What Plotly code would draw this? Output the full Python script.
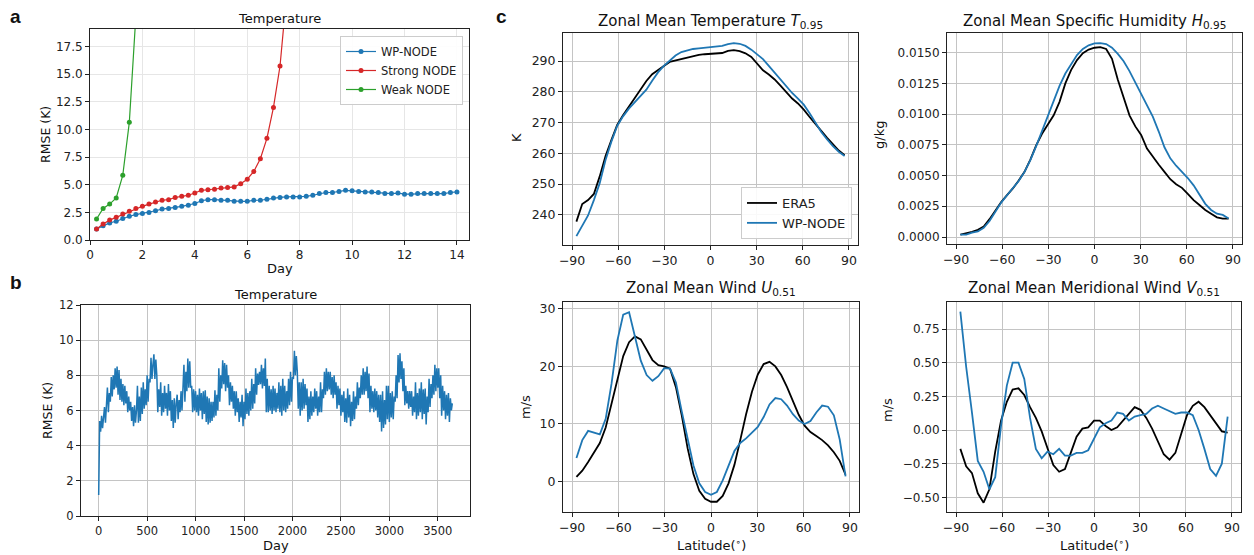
import plotly.graph_objects as go

W, H = 1254, 555

# ---------------- Panel a data ----------------
days_a = [0.25 * (i + 1) for i in range(56)]
wp_a = [1.0, 1.3, 1.55, 1.7, 1.95, 2.15, 2.3, 2.4, 2.5, 2.65,
        2.8, 2.85, 2.95, 3.05, 3.15, 3.3, 3.55, 3.65, 3.65, 3.6,
        3.6, 3.5, 3.5, 3.5, 3.6, 3.6, 3.7, 3.8, 3.85, 3.9,
        3.9, 3.9, 3.95, 4.05, 4.2, 4.3, 4.3, 4.4, 4.5, 4.45,
        4.4, 4.35, 4.35, 4.3, 4.2, 4.2, 4.25, 4.15, 4.15, 4.2,
        4.2, 4.2, 4.2, 4.2, 4.3, 4.35]
strong_a = [1.0, 1.45, 1.8, 2.05, 2.35, 2.6, 2.85, 3.05, 3.25, 3.45,
            3.6, 3.65, 3.85, 3.95, 4.05, 4.25, 4.5, 4.55, 4.6, 4.7,
            4.75, 4.8, 5.1, 5.5, 6.2, 7.35, 9.2, 12.0, 15.75, 22.2]
weak_a = [1.9, 2.85, 3.25, 3.8, 5.85, 10.65, 20.3]

# ---------------- Panel b data (every 10 days) ----------------
rmse_b = [
    1.2, 5.4, 4.8, 5.7, 5.0, 5.6, 6.2, 5.3, 6.3, 7.3,
    5.9, 7.0, 6.5, 7.9, 6.8, 8.0, 7.2, 8.4, 7.3, 8.5,
    6.9, 8.3, 6.6, 7.8, 6.5, 7.5, 6.3, 7.4, 6.4, 7.1,
    5.9, 6.8, 6.0, 6.5, 5.4, 6.2, 5.1, 6.3, 5.3, 6.0,
    7.4, 5.3, 6.8, 5.4, 7.3, 5.8, 7.6, 6.1, 7.2, 6.3,
    8.0, 6.5, 7.8, 7.6, 9.0, 7.8, 8.6, 9.2, 7.8, 8.9,
    8.0, 5.9, 7.2, 6.2, 7.6, 5.7, 7.0, 5.9, 7.4, 6.1,
    7.0, 5.7, 7.5, 6.0, 7.1, 5.4, 6.6, 5.0, 6.7, 5.3,
    6.4, 6.9, 5.5, 6.6, 5.9, 7.1, 6.0, 7.0, 8.6, 6.5,
    8.2, 7.1, 8.95, 7.3, 8.8, 7.3, 7.4, 5.9, 7.2, 6.0,
    7.1, 5.9, 6.9, 5.7, 7.25, 6.0, 7.0, 5.5, 7.1, 5.8,
    7.15, 5.35, 6.8, 5.2, 6.7, 5.3, 6.5, 5.4, 6.5, 5.6,
    7.15, 5.7, 6.9, 6.0, 8.4, 6.5, 8.0, 7.25, 8.85, 7.5,
    8.7, 7.1, 8.6, 7.3, 8.0, 6.3, 7.6, 6.5, 7.4, 6.1,
    7.1, 5.7, 7.1, 5.9, 6.7, 5.35, 6.5, 5.6, 6.9, 5.1,
    6.5, 5.5, 7.25, 5.8, 7.0, 5.7, 7.1, 6.0, 7.8, 6.1,
    7.5, 6.4, 8.4, 6.9, 8.1, 7.45, 8.2, 7.5, 8.6, 7.25,
    8.4, 7.4, 8.95, 5.9, 7.8, 5.9, 7.4, 6.0, 7.2, 5.8,
    7.4, 6.0, 7.25, 5.9, 7.0, 6.1, 7.6, 5.9, 7.4, 5.7,
    7.8, 6.0, 7.4, 5.9, 7.1, 6.1, 7.8, 6.3, 8.2, 6.5,
    7.9, 7.8, 9.4, 8.0, 9.1, 8.2, 6.1, 7.6, 5.7, 7.6,
    6.0, 7.8, 6.1, 7.5, 6.3, 7.25, 5.35, 6.8, 5.5, 7.1,
    5.7, 6.8, 5.9, 7.25, 6.1, 7.1, 5.7, 6.8, 5.9, 7.6,
    5.9, 7.2, 6.7, 8.2, 6.9, 8.4, 7.1, 8.2, 7.2, 8.2,
    6.9, 7.9, 6.7, 8.0, 6.9, 7.6, 6.1, 7.4, 6.3, 7.25,
    5.7, 6.9, 5.9, 7.1, 5.35, 6.7, 5.3, 7.25, 5.6, 6.9,
    5.1, 6.5, 5.4, 7.1, 5.5, 6.8, 6.1, 7.6, 6.3, 7.3,
    6.7, 8.0, 6.9, 8.4, 6.9, 8.2, 7.1, 8.5, 6.7, 8.1,
    5.9, 7.4, 6.1, 7.1, 5.9, 7.25, 6.0, 7.1, 5.6, 6.9,
    5.35, 6.9, 4.8, 7.1, 5.0, 6.6, 5.2, 7.4, 5.5, 7.4,
    5.35, 7.0, 5.6, 7.1, 5.5, 6.8, 6.5, 8.0, 6.7, 9.15,
    7.6, 9.25, 7.8, 8.8, 7.1, 8.4, 6.3, 7.4, 6.4, 7.1,
    6.1, 7.1, 6.2, 7.1, 5.7, 6.8, 5.9, 7.6, 5.5, 7.0,
    5.7, 7.25, 5.9, 7.6, 5.5, 7.2, 5.8, 7.25, 5.2, 6.8,
    5.9, 7.8, 6.2, 7.5, 6.7, 8.0, 6.9, 8.6, 7.1, 8.4,
    7.3, 8.4, 6.7, 8.0, 5.7, 7.4, 6.0, 7.1, 5.5, 6.9,
    5.7, 7.0, 5.35, 6.7, 6.0, 6.4]
days_b = [10 * i for i in range(len(rmse_b))]

# ---------------- Panel c data ----------------
lat = [-87.19, -83.40, -79.61, -75.82, -72.03, -68.24, -64.45, -60.66, -56.87, -53.08,
       -49.29, -45.50, -41.71, -37.92, -34.13, -30.34, -26.54, -22.74, -18.95, -15.16,
       -11.37, -7.58, -3.79, 0.0, 3.79, 7.58, 11.37, 15.16, 18.95, 22.74,
       26.54, 30.33, 34.12, 37.91, 41.70, 45.49, 49.28, 53.07, 56.86, 60.65,
       64.44, 68.23, 72.02, 75.82, 79.61, 83.40, 87.19]

t_era5 = [237.8, 243.5, 244.8, 246.8, 252.5, 259.1, 264.3, 269.2, 272.4, 275.1,
          277.9, 280.8, 283.5, 285.7, 287.2, 288.4, 289.7, 290.2, 290.6, 291.0,
          291.6, 292.0, 292.2, 292.4, 292.4, 292.6, 293.3, 293.5, 293.2, 292.5,
          291.3, 289.2, 287.0, 285.6, 284.0, 282.0, 279.9, 277.8, 276.2, 274.2,
          271.8, 269.4, 267.3, 265.0, 262.8, 260.9, 259.4]
t_wp = [233.1, 236.5, 239.8, 244.8, 250.3, 257.8, 263.8, 268.9, 272.0, 274.5,
        276.6, 278.6, 280.7, 283.6, 286.3, 288.4, 290.0, 291.8, 292.9, 293.5,
        293.9, 294.1, 294.3, 294.5, 294.7, 294.9, 295.5, 295.8, 295.6, 294.9,
        293.7, 292.3, 290.6, 288.4, 286.2, 284.0, 281.7, 279.6, 277.8, 275.8,
        273.0, 269.8, 266.9, 264.5, 262.3, 260.5, 259.1]

h_era5 = [0.00020, 0.00030, 0.00042, 0.00058, 0.00085, 0.00145, 0.00220, 0.00285, 0.00340, 0.00395,
          0.00460, 0.00530, 0.00630, 0.00745, 0.00840, 0.00920, 0.00990, 0.01100, 0.01250, 0.01360,
          0.01440, 0.01495, 0.01525, 0.01540, 0.01545, 0.01530, 0.01450, 0.01280, 0.01140, 0.00990,
          0.00900, 0.00830, 0.00720, 0.00650, 0.00590, 0.00530, 0.00470, 0.00430, 0.00400, 0.00350,
          0.00300, 0.00260, 0.00220, 0.00190, 0.00160, 0.00150, 0.00150]
h_wp = [0.00020, 0.00020, 0.00035, 0.00045, 0.00075, 0.00130, 0.00205, 0.00280, 0.00340, 0.00395,
        0.00455, 0.00530, 0.00625, 0.00740, 0.00860, 0.00990, 0.01110, 0.01230, 0.01330, 0.01410,
        0.01480, 0.01530, 0.01560, 0.01575, 0.01578, 0.01570, 0.01540, 0.01490, 0.01430, 0.01350,
        0.01260, 0.01160, 0.01070, 0.00980, 0.00860, 0.00730, 0.00640, 0.00580, 0.00530, 0.00480,
        0.00420, 0.00340, 0.00270, 0.00220, 0.00190, 0.00180, 0.00150]

u_era5 = [0.8, 1.9, 3.4, 5.1, 6.7, 9.4, 13.5, 17.8, 21.8, 24.2,
          25.2, 24.7, 22.9, 21.1, 20.2, 20.0, 19.6, 16.4, 11.5, 5.8,
          1.3, -1.6, -3.0, -3.5, -3.5, -2.5, -0.3, 2.9, 7.2, 11.7,
          15.6, 18.6, 20.4, 20.8, 20.0, 18.5, 16.4, 14.0, 11.6, 9.7,
          8.6, 7.9, 7.2, 6.3, 5.1, 3.6, 1.2]
u_wp = [4.1, 7.2, 8.8, 8.5, 8.2, 10.9, 17.0, 24.5, 29.0, 29.4,
        25.0, 21.0, 18.5, 17.5, 18.3, 19.7, 19.6, 17.2, 12.2, 7.2,
        2.8, -0.3, -1.8, -2.3, -1.8, 0.2, 2.6, 5.3, 6.7, 7.5,
        8.5, 9.5, 11.2, 13.4, 14.5, 14.3, 13.2, 11.7, 10.6, 10.0,
        10.5, 12.0, 13.2, 13.0, 11.5, 7.3, 0.9]

v_era5 = [-0.14, -0.27, -0.32, -0.47, -0.54, -0.44, -0.16, 0.07, 0.21, 0.30,
          0.31, 0.26, 0.17, 0.09, -0.01, -0.14, -0.26, -0.31, -0.29, -0.17,
          -0.05, 0.01, 0.02, 0.07, 0.07, 0.03, 0.00, 0.02, 0.07, 0.12,
          0.17, 0.15, 0.09, 0.01, -0.08, -0.18, -0.22, -0.17, -0.03, 0.11,
          0.18, 0.21, 0.17, 0.11, 0.05, -0.01, -0.02]
v_wp = [0.88, 0.47, 0.13, -0.23, -0.31, -0.44, -0.35, 0.03, 0.33, 0.50,
        0.50, 0.38, 0.09, -0.14, -0.21, -0.16, -0.18, -0.14, -0.19, -0.19,
        -0.17, -0.17, -0.15, -0.06, 0.02, 0.05, 0.07, 0.13, 0.12, 0.07,
        0.10, 0.11, 0.12, 0.16, 0.18, 0.16, 0.14, 0.12, 0.13, 0.13,
        0.11, 0.00, -0.14, -0.29, -0.34, -0.25, 0.10]

BLUE, RED, GREEN, BLACK = "#1f77b4", "#d62728", "#2ca02c", "#000000"
FONT = "DejaVu Sans"

fig = go.Figure()

# Panel a
for name, ys, col in [("WP-NODE", wp_a, BLUE), ("Strong NODE", strong_a, RED), ("Weak NODE", weak_a, GREEN)]:
    fig.add_trace(go.Scatter(x=days_a[:len(ys)], y=ys, mode="lines+markers", name=name,
                             line=dict(color=col, width=1.2), marker=dict(color=col, size=5),
                             xaxis="x", yaxis="y", legend="legend"))

# Panel b
fig.add_trace(go.Scatter(x=days_b, y=rmse_b, mode="lines", line=dict(color=BLUE, width=1.5),
                         showlegend=False, xaxis="x2", yaxis="y2"))

# Panel c
pairs = [(t_era5, t_wp, "3"), (h_era5, h_wp, "4"), (u_era5, u_wp, "5"), (v_era5, v_wp, "6")]
for era, wp, k in pairs:
    first = (k == "3")
    fig.add_trace(go.Scatter(x=lat, y=era, mode="lines", name="ERA5", line=dict(color=BLACK, width=1.8),
                             showlegend=first, xaxis="x" + k, yaxis="y" + k, legend="legend2"))
    fig.add_trace(go.Scatter(x=lat, y=wp, mode="lines", name="WP-NODE", line=dict(color=BLUE, width=1.8),
                             showlegend=first, xaxis="x" + k, yaxis="y" + k, legend="legend2"))


def px_x(a, b):
    return [a / W, b / W]


def px_y(top, bot):
    return [1 - bot / H, 1 - top / H]


def ax(domain, rng, tick_size, grid="#c4c4c4", **kw):
    d = dict(domain=domain, range=rng, showline=True, mirror=True, linecolor="#222", linewidth=1,
             ticks="outside", ticklen=4, tickcolor="#222", showgrid=True, gridcolor=grid, gridwidth=1,
             zeroline=False, automargin=False, tickfont=dict(family=FONT, size=tick_size, color="#222"))
    d.update(kw)
    return d


lat_ticks = dict(tickmode="array", tickvals=[-90, -60, -30, 0, 30, 60, 90])

fig.update_layout(
    width=W, height=H, margin=dict(l=0, r=0, t=0, b=0, autoexpand=False),
    paper_bgcolor="white", plot_bgcolor="white",
    font=dict(family=FONT, color="#222"),
    xaxis=ax(px_x(90, 469), [0, 14.46], 12, grid="#e6e6e6", dtick=2, anchor="y"),
    yaxis=ax(px_y(29, 240), [0, 19.1], 12, grid="#e6e6e6", dtick=2.5, tickformat=".1f", anchor="x"),
    xaxis2=ax(px_x(81, 470), [-182.5, 3832.5], 11.5, dtick=500, tickformat="d", anchor="y2"),
    yaxis2=ax(px_y(305, 516), [0, 12], 11.5, dtick=2, anchor="x2"),
    xaxis3=ax(px_x(563, 858), [-95.9, 95.9], 12.5, anchor="y3", **lat_ticks),
    yaxis3=ax(px_y(33, 245), [230.2, 299.1], 12.5, dtick=10, anchor="x3"),
    xaxis4=ax(px_x(947, 1242), [-95.9, 95.9], 12.5, anchor="y4", **lat_ticks),
    yaxis4=ax(px_y(33, 244), [-0.00057, 0.0166], 12, dtick=0.0025, tickformat=".4f", anchor="x4"),
    xaxis5=ax(px_x(563, 859), [-95.9, 95.9], 12.5, anchor="y5", **lat_ticks),
    yaxis5=ax(px_y(302, 512), [-5.28, 31.18], 12.5, dtick=10, anchor="x5"),
    xaxis6=ax(px_x(947, 1241), [-95.9, 95.9], 12.5, anchor="y6", **lat_ticks),
    yaxis6=ax(px_y(302, 512), [-0.609, 0.951], 12, dtick=0.25, tickformat=".2f", anchor="x6"),
    legend=dict(x=463 / W, y=1 - 36 / H, xanchor="right", yanchor="top", bgcolor="rgba(255,255,255,0.9)",
                bordercolor="#cccccc", borderwidth=1, font=dict(family=FONT, size=11.5),
                itemwidth=30, tracegroupgap=0),
    legend2=dict(x=852 / W, y=1 - 239 / H, xanchor="right", yanchor="bottom", bgcolor="rgba(255,255,255,0.9)",
                 bordercolor="#cccccc", borderwidth=1, font=dict(family=FONT, size=13),
                 itemwidth=30, tracegroupgap=0),
)

ann = []


def text(x, y, s, size, angle=0, bold=False, family=FONT, xanchor="center"):
    ann.append(dict(x=x / W, y=1 - y / H, xref="paper", yref="paper", text=("<b>%s</b>" % s) if bold else s,
                    showarrow=False, textangle=angle, xanchor=xanchor, yanchor="middle",
                    font=dict(family=family, size=size, color="#111")))


# panel letters
text(8, 16, "a", 19, bold=True, family="Liberation Sans", xanchor="left")
text(8, 282, "b", 19, bold=True, family="Liberation Sans", xanchor="left")
text(494, 16, "c", 19, bold=True, family="Liberation Sans", xanchor="left")
# panel a/b
text(279.5, 18, "Temperature", 13)
text(279.5, 269, "Day", 13)
text(46, 135, "RMSE (K)", 12.5, angle=-90)
text(275.5, 294, "Temperature", 13)
text(275.5, 545, "Day", 13)
text(47, 410, "RMSE (K)", 12.5, angle=-90)
# panel c
text(710.5, 21, "Zonal Mean Temperature <i>T</i><sub>0.95</sub>", 15)
text(1094.5, 21, "Zonal Mean Specific Humidity <i>H</i><sub>0.95</sub>", 15)
text(711, 288, "Zonal Mean Wind <i>U</i><sub>0.51</sub>", 15)
text(1094, 288, "Zonal Mean Meridional Wind <i>V</i><sub>0.51</sub>", 15)
text(516, 138, "K", 13, angle=-90)
text(880, 135, "g/kg", 13, angle=-90)
text(526, 407, "m/s", 13, angle=-90)
text(887, 410, "m/s", 13, angle=-90)
text(711, 545, "Latitude(<sup>∘</sup>)", 13)
text(1094, 545, "Latitude(<sup>∘</sup>)", 13)

fig.update_layout(annotations=ann)
fig.write_html("out.html", config={"displayModeBar": False},
               post_script="document.body.style.margin='0px';document.body.style.overflow='hidden';")
